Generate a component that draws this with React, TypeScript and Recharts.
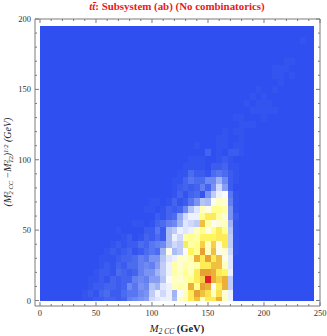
import { ScatterChart, Scatter, XAxis, YAxis, ReferenceArea } from "recharts";

// bin centres in GeV, every 5 GeV
const X_BINS = Array.from({ length: 50 }, (_, i) => i * 5);
const Y_BINS = Array.from({ length: 40 }, (_, i) => i * 5);
const X_TICKS = Array.from({ length: 26 }, (_, i) => i * 10);
const Y_TICKS = Array.from({ length: 21 }, (_, i) => i * 10);

// event density, one char per bin (0-9 then a-z = 0..35), first line is y=0
const ROWS = [
  "0000000011 2233236789 fghhclmqtl qqulh00000 0000000000",
  "0000000012 1342245578 ehfhbilqvt rlrkh00000 0000000000",
  "0000000001 2233237587 dbghlmlunv uique00000 0000000000",
  "0000000001 1213233676 99dilkmnqs zusue00000 0000000000",
  "0000000000 1221432368 8behmlnlqv vuqph00000 0000000000",
  "0000000000 0121324467 69ehmkmlmq qttlg00000 0000000000",
  "0000000000 0111233465 88dghlkmuq vqtjg00000 0000000000",
  "0000000000 0012123124 54bjceipnv ltjkf10000 0000000000",
  "0000000000 0001212243 567cfeqmns lsjqe10000 0000000000",
  "0000000000 0000012013 242chfmnmp ppqqe10000 0000000000",
  "0000000000 0000100002 252cehghln jnqnd10000 0000000000",
  "0000000000 0000000110 13467bgfet miklb10000 0000000000",
  "0000000000 0000000000 02134afhhn qqmk820000 0000000000",
  "0000000000 0000000001 1013237dgl jnnm810000 0000000000",
  "0000000000 0000000000 110131258d cilk610000 0000000000",
  "0000000000 0000000000 0000131341 8ehi510000 0000000000",
  "0000000000 0000000000 0000123236 38f9200000 0000000000",
  "0000000000 0000000000 0000113544 77b7210000 0000000000",
  "0000000000 0000000000 0000011422 1454210000 0000000000",
  "0000000000 0000000000 0000001111 0223110000 0000000000",
  "0000000000 0000000000 0000000111 0012100000 0000000000",
  "0000000000 0000000000 0000000000 3010221000 0000000000",
  "0000000000 0000000000 0000000010 0011011000 0000000000",
  "0000000000 0000000000 0000000000 0011001000 0000000000",
  "0000000000 0000000000 0000000000 0001011000 0000000000",
  "0000000000 0000000000 0000000000 0000001110 0000000000",
  "0000000000 0000000000 0000000000 0000011000 1000000000",
  "0000000000 0000000000 0000000000 0000000011 1110000000",
  "0000000000 0000000000 0000000000 0000000101 1100000000",
  "0000000000 0000000000 0000000000 0000000010 1000000000",
  "0000000000 0000000000 0000000000 0000000001 0010000000",
  "0000000000 0000000000 0000000000 0000000000 0001000000",
  "0000000000 0000000000 0000000000 0000000000 0011010000",
  "0000000000 0000000000 0000000000 0000000000 0011100000",
  "0000000000 0000000000 0000000000 0000000000 0000110000",
  "0000000000 0000000000 0000000000 0000000000 0000000000",
  "0000000000 0000000000 0000000000 0000000000 0000000000",
  "0000000000 0000000000 0000000000 0000000000 0000000100",
  "0000000000 0000000000 0000000000 0000000000 0000000000",
  "0000000000 0000000000 0000000000 0000000000 0000000000",
];

const COLOR_STOPS: [number, number[]][] = [
  [0, [47, 79, 240]],
  [1, [52, 84, 240]],
  [4, [76, 108, 240]],
  [8, [122, 146, 242]],
  [11, [160, 180, 244]],
  [14, [192, 204, 248]],
  [16, [224, 230, 255]],
  [18, [250, 250, 250]],
  [21, [255, 255, 192]],
  [23, [255, 255, 144]],
  [25, [255, 245, 96]],
  [27, [252, 224, 80]],
  [29, [240, 192, 64]],
  [31, [232, 160, 48]],
  [33, [230, 112, 36]],
  [35, [222, 32, 32]],
];

const densityColor = (v: number) => {
  for (let i = 1; i < COLOR_STOPS.length; i++) {
    const [v0, c0] = COLOR_STOPS[i - 1];
    const [v1, c1] = COLOR_STOPS[i];
    if (v <= v1) {
      const t = (v - v0) / (v1 - v0);
      const c = c0.map((a, j) => Math.round(a + (c1[j] - a) * t));
      return `rgb(${c[0]},${c[1]},${c[2]})`;
    }
  }
  return "rgb(222,32,32)";
};

const cells = Y_BINS.flatMap((y, r) => {
  const row = ROWS[r].replace(/ /g, "");
  return X_BINS.map((x, k) => ({
    x,
    y,
    x1: Math.max(0, x - 2.5),
    x2: Math.min(245, x + 2.5),
    y1: Math.max(0, y - 2.5),
    y2: Math.min(195, y + 2.5),
    fill: densityColor(parseInt(row[k], 36)),
  }));
});

const FRAME = "#7a7a7a";
const LABEL = "#333";
const SERIF = "'Liberation Serif', serif";

const isMajor = (v: number) => v % 50 === 0;
const tickLen = (v: number) => (isMajor(v) ? 4 : 2);

const BottomTick = ({ x, y, payload }: any) => (
  <g>
    <line x1={x} x2={x} y1={y} y2={y - tickLen(payload.value)} stroke={FRAME} />
    {isMajor(payload.value) && (
      <text x={x} y={y + 10} textAnchor="middle" fontSize={8.5} fontFamily={SERIF} fill={LABEL}>
        {payload.value}
      </text>
    )}
  </g>
);
const TopTick = ({ x, y, payload }: any) => (
  <line x1={x} x2={x} y1={y} y2={y + tickLen(payload.value)} stroke={FRAME} />
);
const LeftTick = ({ x, y, payload }: any) => (
  <g>
    <line x1={x} x2={x + tickLen(payload.value)} y1={y} y2={y} stroke={FRAME} />
    {isMajor(payload.value) && (
      <text x={x - 4} y={y + 3} textAnchor="end" fontSize={8.5} fontFamily={SERIF} fill={LABEL}>
        {payload.value}
      </text>
    )}
  </g>
);
const RightTick = ({ x, y, payload }: any) => (
  <line x1={x} x2={x - tickLen(payload.value)} y1={y} y2={y} stroke={FRAME} />
);

const AXIS = {
  type: "number" as const,
  interval: 0 as const,
  allowDataOverflow: true,
  tickSize: 0,
  tickMargin: 0,
  tickLine: false,
  axisLine: { stroke: FRAME },
};

export default function App() {
  return (
    <div style={{ position: "absolute", left: 0, top: 0, width: 327, height: 336 }}>
      <ScatterChart width={327} height={336} margin={{ top: 18, right: 6, bottom: 0, left: 0 }}>
        <XAxis {...AXIS} xAxisId="b" dataKey="x" domain={[-4.46, 250]} ticks={X_TICKS} height={30} tick={BottomTick} />
        <XAxis {...AXIS} xAxisId="t" dataKey="x" orientation="top" domain={[-4.46, 250]} ticks={X_TICKS} height={1} tick={TopTick} />
        <YAxis {...AXIS} yAxisId="l" dataKey="y" domain={[-3.9, 200]} ticks={Y_TICKS} width={35} tick={LeftTick} />
        <YAxis {...AXIS} yAxisId="r" dataKey="y" orientation="right" domain={[-3.9, 200]} ticks={Y_TICKS} width={1} tick={RightTick} />
        <Scatter data={cells.slice(0, 1)} xAxisId="b" yAxisId="l" shape={() => null} isAnimationActive={false} />
        <Scatter data={cells.slice(0, 1)} xAxisId="t" yAxisId="r" shape={() => null} isAnimationActive={false} />
        {cells.map((c, i) => (
          <ReferenceArea
            key={i}
            xAxisId="b"
            yAxisId="l"
            x1={c.x1}
            x2={c.x2}
            y1={c.y1}
            y2={c.y2}
            fill={c.fill}
            fillOpacity={1}
            stroke="none"
            shapeRendering="crispEdges"
            ifOverflow="visible"
          />
        ))}
        <text x={177} y={10} textAnchor="middle" fontSize={10.9} fontWeight="bold" fontFamily={SERIF} fill="#e8191c">
          <tspan fontStyle="italic">tt̄</tspan>: Subsystem (ab) (No combinatorics)
        </text>
        <text x={177} y={332} textAnchor="middle" fontSize={10.5} fontFamily={SERIF} fill="#222">
          <tspan fontStyle="italic">M</tspan>
          <tspan fontStyle="italic" fontSize={7.5} dy={1.5}>2 CC</tspan>
          <tspan fontWeight="bold" dy={-1.5}> (GeV)</tspan>
        </text>
        <text
          transform="translate(11,162) rotate(-90)"
          textAnchor="middle"
          fontSize={10}
          fontFamily={SERIF}
          fontStyle="italic"
          fill="#222"
        >
          (M
          <tspan fontSize={6.5} dy={-3}>2</tspan>
          <tspan fontSize={6.5} dy={5} dx={-3}>2 CC</tspan>
          <tspan dy={-2}> −M</tspan>
          <tspan fontSize={6.5} dy={-3}>2</tspan>
          <tspan fontSize={6.5} dy={5} dx={-3}>T2</tspan>
          <tspan dy={-2}>)</tspan>
          <tspan fontSize={6.5} dy={-3}>1/2</tspan>
          <tspan dy={3}> (GeV)</tspan>
        </text>
      </ScatterChart>
    </div>
  );
}
